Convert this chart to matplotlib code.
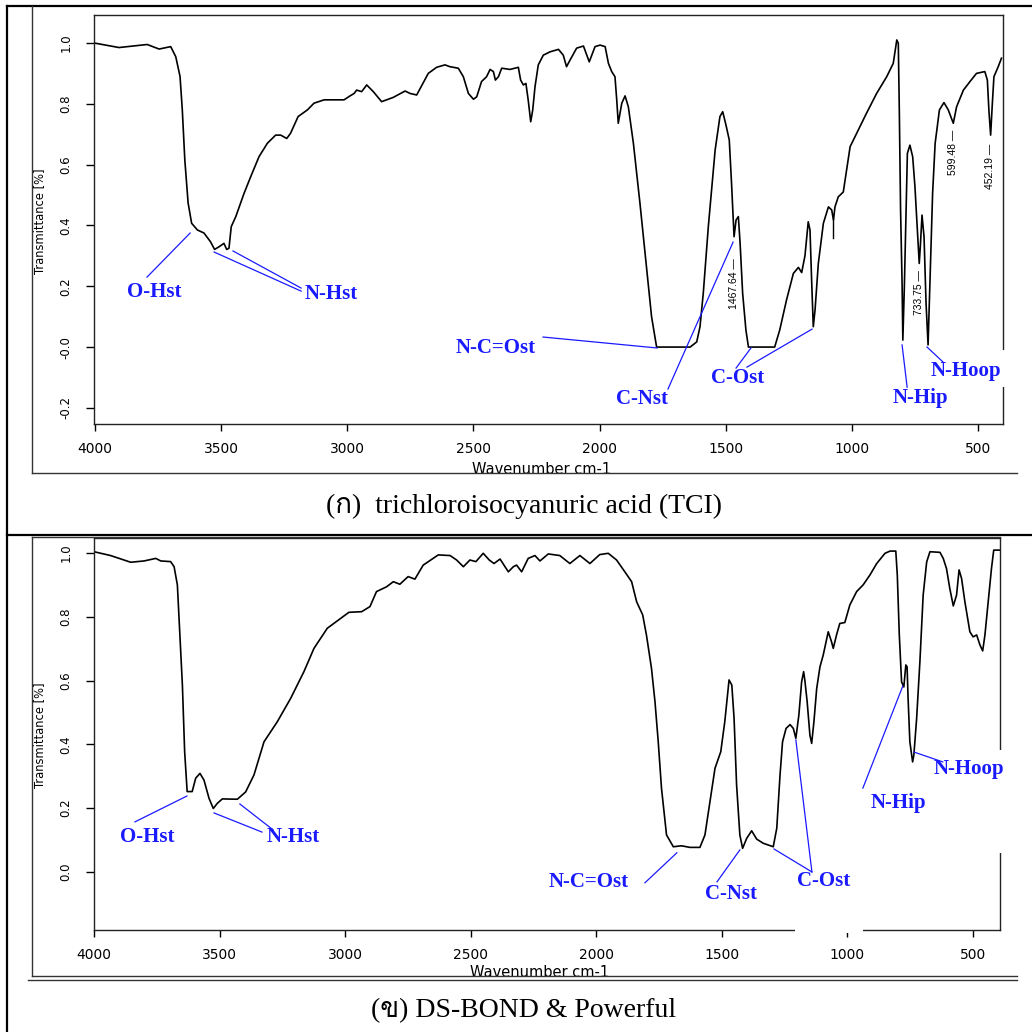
import matplotlib
matplotlib.use("Agg")
import matplotlib.pyplot as plt
from matplotlib import font_manager
from matplotlib.ft2font import FT2Font
from matplotlib.lines import Line2D
from matplotlib.patches import Rectangle

# (ก) trichloroisocyanuric acid (TCI) - wavenumber / transmittance
tci_wn = [4004, 3905, 3850, 3793, 3746, 3700, 3680, 3663, 3654, 3644, 3631, 3617, 3594, 3568,
          3542, 3526, 3508, 3489, 3478, 3469, 3460, 3442, 3409, 3383, 3350, 3317, 3284, 3264,
          3240, 3225, 3195, 3158, 3132, 3092, 3013, 2989, 2973, 2963, 2943, 2923, 2897, 2864,
          2818, 2771, 2751, 2725, 2679, 2646, 2613, 2593, 2560, 2540, 2520, 2500, 2487, 2468,
          2448, 2434, 2421, 2413, 2401, 2388, 2355, 2322, 2313, 2302, 2292, 2283, 2273, 2265,
          2256, 2243, 2223, 2196, 2163, 2144, 2131, 2117, 2091, 2064, 2041, 2018, 1998, 1978,
          1965, 1952, 1939, 1932, 1926, 1912, 1899, 1886, 1866, 1840, 1813, 1794, 1774, 1641,
          1615, 1602, 1589, 1569, 1542, 1523, 1512, 1499, 1486, 1477, 1467, 1459, 1450, 1443,
          1433, 1420, 1410, 1306, 1286, 1259, 1232, 1212, 1199, 1186, 1173, 1166, 1160, 1153,
          1146, 1133, 1113, 1093, 1080, 1073, 1067, 1054, 1034, 1021, 1007, 981, 942, 902,
          862, 836, 822, 816, 812, 807, 801, 798, 792, 785, 780, 770, 759, 750, 741, 733,
          728, 722, 714, 706, 698, 690, 680, 670, 653, 635, 618, 598, 585, 558, 532, 506,
          473, 463, 457, 450, 444, 437, 420, 407]
tci_t = [1.0, 0.985, 0.99, 0.995, 0.98, 0.988, 0.955, 0.89, 0.78, 0.615, 0.474, 0.407, 0.385, 0.375,
         0.346, 0.321, 0.33, 0.341, 0.321, 0.325, 0.396, 0.429, 0.506, 0.56, 0.626, 0.67, 0.697, 0.697,
         0.686, 0.703, 0.758, 0.78, 0.802, 0.813, 0.813, 0.826, 0.834, 0.845, 0.84, 0.862, 0.84, 0.807,
         0.821, 0.842, 0.834, 0.829, 0.9, 0.92, 0.928, 0.922, 0.917, 0.889, 0.834, 0.815, 0.823, 0.873,
         0.889, 0.913, 0.906, 0.878, 0.889, 0.917, 0.913, 0.92, 0.878, 0.862, 0.867, 0.8125, 0.741, 0.78,
         0.856, 0.928, 0.96, 0.971, 0.979, 0.96, 0.922, 0.944, 0.983, 0.99, 0.938, 0.988, 0.993, 0.988,
         0.933, 0.906, 0.889, 0.8125, 0.736, 0.802, 0.826, 0.79, 0.67, 0.473, 0.253, 0.1, 0.0, 0.0,
         0.017, 0.067, 0.177, 0.396, 0.648, 0.758, 0.774, 0.73, 0.681, 0.539, 0.363, 0.418, 0.429, 0.341,
         0.177, 0.056, 0.0, 0.0, 0.056, 0.155, 0.242, 0.262, 0.245, 0.30, 0.412, 0.385, 0.231, 0.067,
         0.122, 0.275, 0.407, 0.461, 0.451, 0.418, 0.461, 0.494, 0.51, 0.582, 0.659, 0.703, 0.769, 0.834,
         0.889, 0.933, 1.01, 0.999, 0.78, 0.451, 0.21, 0.023, 0.198, 0.451, 0.637, 0.664, 0.626, 0.527, 0.396, 0.275,
         0.341, 0.434, 0.363, 0.144, 0.007, 0.231, 0.506, 0.67, 0.78, 0.804, 0.78, 0.736, 0.79, 0.845, 0.873, 0.9,
         0.906, 0.878, 0.78, 0.697, 0.79, 0.889, 0.922, 0.95]

# (ข) DS-BOND & Powerful
ds_wn = [4000, 3934, 3854, 3801, 3754, 3734, 3695, 3681, 3668, 3658, 3648, 3639, 3629, 3609,
         3595, 3578, 3562, 3542, 3525, 3509, 3489, 3429, 3396, 3363, 3323, 3270, 3217, 3164,
         3124, 3071, 3018, 2985, 2934, 2901, 2875, 2835, 2808, 2782, 2749, 2722, 2689, 2629,
         2582, 2556, 2529, 2503, 2479, 2450, 2426, 2407, 2383, 2350, 2330, 2317, 2297, 2271,
         2244, 2224, 2191, 2145, 2105, 2065, 2025, 1986, 1952, 1919, 1886, 1859, 1839, 1815,
         1800, 1780, 1766, 1753, 1740, 1720, 1693, 1660, 1627, 1587, 1567, 1547, 1527, 1504,
         1488, 1471, 1460, 1451, 1441, 1428, 1417, 1401, 1381, 1361, 1335, 1295, 1281, 1268,
         1258, 1244, 1228, 1215, 1205, 1193, 1182, 1174, 1169, 1160, 1149, 1142, 1133, 1122,
         1109, 1096, 1076, 1063, 1056, 1043, 1030, 1010, 990, 963, 937, 910, 883, 850,
         830, 807, 801, 793, 784, 775, 767, 762, 758, 751, 740, 735, 724, 711, 698, 684,
         671, 631, 618, 605, 592, 578, 565, 555, 545, 532, 512, 499, 485, 472, 461, 452,
         439, 426, 417, 393]
ds_t = [1.004, 0.992, 0.971, 0.975, 0.983, 0.975, 0.973, 0.957, 0.9, 0.743, 0.586, 0.377, 0.252, 0.252,
        0.294, 0.309, 0.288, 0.231, 0.199, 0.215, 0.229, 0.228, 0.251, 0.304, 0.408, 0.471, 0.544, 0.628,
        0.701, 0.764, 0.795, 0.814, 0.816, 0.832, 0.879, 0.894, 0.91, 0.902, 0.926, 0.918, 0.962, 0.994,
        0.992, 0.978, 0.957, 0.978, 0.973, 0.999, 0.978, 0.967, 0.981, 0.941, 0.957, 0.962, 0.941, 0.983,
        0.992, 0.975, 0.997, 0.992, 0.967, 0.992, 0.967, 0.995, 0.999, 0.978, 0.941, 0.91, 0.847, 0.806,
        0.743, 0.639, 0.534, 0.408, 0.262, 0.116, 0.079, 0.082, 0.077, 0.077, 0.116, 0.22, 0.325, 0.377,
        0.471, 0.602, 0.586, 0.481, 0.273, 0.116, 0.074, 0.105, 0.129, 0.103, 0.09, 0.079, 0.137, 0.304,
        0.408, 0.45, 0.462, 0.45, 0.419, 0.492, 0.596, 0.628, 0.6, 0.534, 0.429, 0.403, 0.471, 0.575,
        0.643, 0.68, 0.753, 0.722, 0.701, 0.743, 0.779, 0.782, 0.837, 0.879, 0.9, 0.931, 0.967, 0.999,
        1.006, 1.006, 0.931, 0.743, 0.596, 0.58, 0.649, 0.643, 0.544, 0.408, 0.345, 0.367, 0.481, 0.659, 0.868, 0.972,
        1.004, 1.002, 0.983, 0.951, 0.889, 0.834, 0.868, 0.947, 0.92, 0.848, 0.753, 0.737, 0.743, 0.712, 0.693, 0.743,
        0.848, 0.951, 1.009, 1.009]

xticks = [4000, 3500, 3000, 2500, 2000, 1500, 1000, 500]
top_yticks = [-0.2, 0.0, 0.2, 0.4, 0.6, 0.8, 1.0]
top_ylabels = ['-0.2', '-0.0', '0.2', '0.4', '0.6', '0.8', '1.0']
bot_yticks = [0.0, 0.2, 0.4, 0.6, 0.8, 1.0]
bot_ylabels = ['0.0', '0.2', '0.4', '0.6', '0.8', '1.0']

captions = ['(ก)  trichloroisocyanuric acid (TCI)', '(ข) DS-BOND & Powerful']

BLUE = '#1a1aff'
W = 1032.0


def thai_font():
    # find any installed font that actually has Thai glyphs
    for f in font_manager.fontManager.ttflist:
        if 'CJK' in f.name:
            continue
        try:
            if 0x0E01 in FT2Font(f.fname).get_charmap():
                return f.name
        except Exception:
            pass
    return None


def fx(x):
    return x / W


def fy(y):
    return 1 - y / W


def setup(ax, xlim, ylim, yticks, ylabels):
    ax.set_xlim(*xlim)
    ax.set_ylim(*ylim)
    ax.set_xticks(xticks)
    ax.set_xticklabels([str(v) for v in xticks], fontsize=10, family='DejaVu Sans')
    ax.set_yticks(yticks)
    ax.set_yticklabels(ylabels, fontsize=8.5, family='DejaVu Sans', rotation=90, va='center')
    ax.tick_params(axis='x', length=5, width=1, pad=8)
    ax.tick_params(axis='y', length=5.5, width=1, pad=10)
    for s in ax.spines.values():
        s.set_linewidth(1.0)
        s.set_color('#222222')


def note(ax, text, pos, segs):
    ax.text(pos[0], pos[1], text, color=BLUE, fontsize=15, fontweight='bold',
            family='Liberation Serif', ha='center', va='center', clip_on=False, zorder=4)
    for (x0, y0, x1, y1) in segs:
        ax.plot([x0, x1], [y0, y1], color=BLUE, lw=0.9, clip_on=False, zorder=4)


def gap(ax, x0, y0, w, h):
    ax.add_patch(Rectangle((x0, y0), w, h, transform=ax.transAxes, facecolor='white',
                           edgecolor='none', clip_on=False, zorder=2.7))


fig = plt.figure(figsize=(10.32, 10.32), dpi=100)

# ---- top panel ----
ax1 = fig.add_axes([fx(94), fy(424), 909 / W, 409 / W])
ax1.plot(tci_wn, tci_t, color='black', lw=1.2)
setup(ax1, (4004, 401), (-0.253, 1.092), top_yticks, top_ylabels)

note(ax1, 'O-Hst', (3764, 0.181), [(3794, 0.230, 3623, 0.375)])
note(ax1, 'N-Hst', (3063, 0.174), [(3528, 0.3125, 3183, 0.184), (3453, 0.316, 3183, 0.194)])
note(ax1, 'N-C=Ost', (2410, -0.003), [(2224, 0.033, 1772, -0.003)])
note(ax1, 'C-Nst', (1830, -0.171), [(1729, -0.138, 1471, 0.345)])
note(ax1, 'C-Ost', (1453, -0.102), [(1459, -0.069, 1400, -0.003), (1416, -0.066, 1158, 0.059)])
note(ax1, 'N-Hip', (730, -0.168), [(781, -0.132, 801, 0.007)])
note(ax1, 'N-Hoop', (548, -0.079), [(639, -0.049, 702, 0.0)])

# peak picks printed by the instrument software
for lab, y in zip(['1467.64', '733.75', '599.48', '452.19'], [0.21, 0.178, 0.64, 0.595]):
    ax1.text(float(lab), y, lab + ' \u2014', rotation=90, fontsize=7.5, family='Liberation Sans',
             ha='center', va='center')
ax1.plot([1075, 1075], [0.36, 0.424], color='black', lw=1.0)
gap(ax1, 0.99, 0.09, 0.02, 0.091)

# ---- bottom panel ----
ax2 = fig.add_axes([fx(94), fy(930), 906 / W, 392 / W])
ax2.plot(ds_wn, ds_t, color='black', lw=1.2)
setup(ax2, (4000, 392), (-0.182, 1.047), bot_yticks, bot_ylabels)

note(ax2, 'O-Hst', (3789, 0.110), [(3837, 0.157, 3630, 0.238)])
note(ax2, 'N-Hst', (3206, 0.110), [(3522, 0.185, 3331, 0.125), (3419, 0.213, 3287, 0.132)])
note(ax2, 'N-C=Ost', (2029, -0.031), [(1806, -0.034, 1679, 0.060)])
note(ax2, 'C-Nst', (1464, -0.069), [(1519, -0.031, 1428, 0.069)])
note(ax2, 'C-Ost', (1093, -0.028), [(1141, 0.0, 1292, 0.072), (1141, 0.0, 1205, 0.414)])
note(ax2, 'N-Hip', (795, 0.216), [(938, 0.263, 779, 0.583)])
note(ax2, 'N-Hoop', (516, 0.323), [(735, 0.376, 620, 0.345)])
gap(ax2, 0.99, 0.196, 0.02, 0.263)
gap(ax2, 0.774, -0.008, 0.075, 0.016)

# axis titles (placed like the scanned instrument printout)
for yc in (221, 735):
    fig.text(fx(40), fy(yc), 'Transmittance [%]', rotation=90, fontsize=8.3,
             family='DejaVu Sans', ha='center', va='center')
fig.text(fx(542), fy(462), 'Wavenumber cm-1', fontsize=10.5, family='DejaVu Sans', ha='center', va='top')
fig.text(fx(540), fy(965), 'Wavenumber cm-1', fontsize=10.5, family='DejaVu Sans', ha='center', va='top')

# table borders and picture frames
def hline(y, x0, x1, lw, c='black'):
    fig.add_artist(Line2D([fx(x0), fx(x1)], [fy(y), fy(y)], color=c, lw=lw, zorder=5))


def vline(x, y0, y1, lw, c='black'):
    fig.add_artist(Line2D([fx(x), fx(x)], [fy(y0), fy(y1)], color=c, lw=lw, zorder=5))


hline(6, 7, 1032, 1.6)
vline(7, 6, 1032, 1.6)
hline(535, 7, 1032, 1.6)
vline(32, 6, 473, 1.0, '#333333')
hline(473, 32, 1017, 1.0, '#333333')
vline(32, 537, 976, 1.0, '#333333')
hline(537, 32, 1000, 1.0, '#333333')
hline(976, 32, 1017, 1.0, '#333333')
hline(979.5, 28, 1017, 1.0, '#333333')

thai = thai_font()
fams = ['Liberation Serif'] + ([thai] if thai else []) + ['DejaVu Sans']
fig.text(fx(524), fy(506), captions[0], fontsize=20, family=fams, ha='center', va='center')
fig.text(fx(524), fy(1011), captions[1], fontsize=20, family=fams, ha='center', va='center')

fig.savefig('out.png', dpi=100)
